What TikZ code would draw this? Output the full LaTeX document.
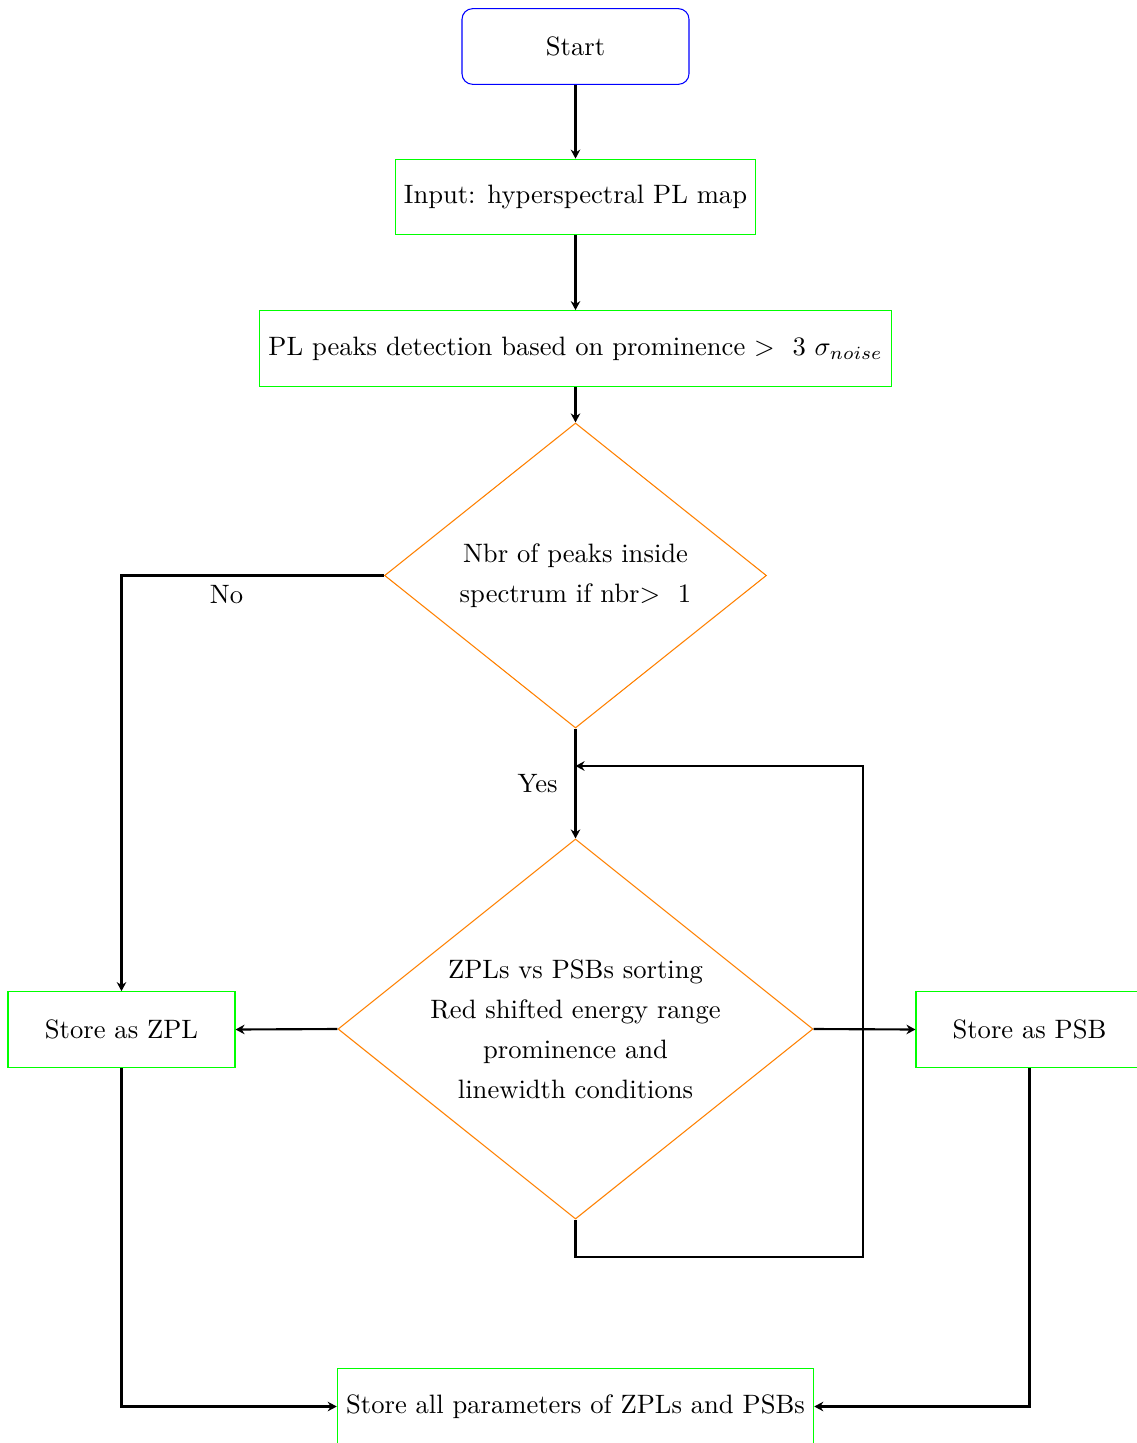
\documentclass[tikz,border=0pt]{standalone}
\usetikzlibrary{shapes.geometric,arrows.meta}
\begin{document}
\begin{tikzpicture}[x=0.376pt,y=-0.376pt,
  startstop/.style={rectangle, rounded corners, draw=blue, minimum width=3cm, minimum height=1cm, align=center},
  process/.style={rectangle, draw=green, minimum width=3cm, minimum height=1cm, align=center},
  decision/.style={diamond, aspect=1.25, draw=orange, inner sep=0pt, align=center, font=\linespread{1.25}\selectfont},
  flow/.style={thick, -{Stealth[length=3.4pt,width=3.6pt]}}]
\useasboundingbox (0,0) rectangle (1137,1443);
\clip (0,0) rectangle (1137,1443);

% nodes
\node[startstop] (start) at (575.5,46.5) {Start};
\node[process] (input) at (575.5,197) {Input: hyperspectral PL map};
\node[process] (detect) at (575.5,348.5) {PL peaks detection based on prominence $>$\ \ 3 $\sigma_{noise}$};
\node[decision, minimum width=143.6pt, minimum height=114.7pt] (count) at (575.5,575.5)
  {Nbr of peaks inside\\spectrum if nbr$>$\ \ 1};
\node[decision, minimum width=178.6pt, minimum height=142.9pt] (sort) at (575.5,1029)
  {ZPLs vs PSBs sorting\\Red shifted energy range\\prominence and\\linewidth conditions};
\node[process] (zpl) at (121.5,1029.5) {Store as ZPL};
\node[process] (psb) at (1029.5,1029.5) {Store as PSB};
\node[process] (all) at (575.5,1406.5) {Store all parameters of ZPLs and PSBs};

% loop-back corners
\coordinate (loopA) at (863,1257);
\coordinate (loopB) at (863,766);
\coordinate (join) at (575.5,766);

% connectors
\draw[flow] (start) -- (input);
\draw[flow] (input) -- (detect);
\draw[flow] (detect) -- (count);
\draw[flow] (count.west) -| node[pos=0.3, below] {No} (zpl.north);
\draw[flow] (count.south) -- node[midway, left, xshift=-3pt] {Yes} (sort.north);
\draw[flow] (sort.west) -- (zpl.east);
\draw[flow] (sort.east) -- (psb.west);
\draw[flow] (sort.south) |- (loopA) -- (loopB) -- (join);
\draw[flow] (zpl.south) |- (all.west);
\draw[flow] (psb.south) |- (all.east);
\end{tikzpicture}
\end{document}
